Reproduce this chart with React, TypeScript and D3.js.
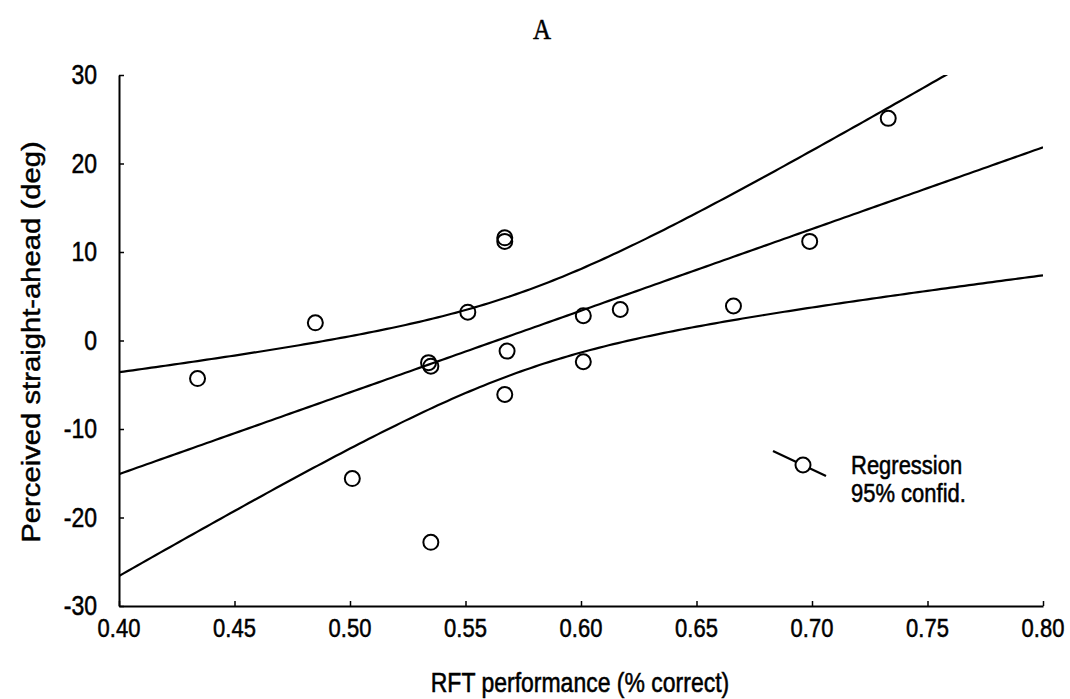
import React, { useEffect, useRef } from 'react';
import * as d3 from 'd3';

// RFT performance (proportion correct) for each subject
const rftScores = [
  0.434, 0.485, 0.501, 0.534, 0.535, 0.535, 0.551, 0.567, 0.567,
  0.568, 0.567, 0.601, 0.601, 0.617, 0.666, 0.699, 0.733,
];
// perceived straight-ahead (deg), same order
const straightAhead = [
  -4.3, 2.0, -15.6, -2.5, -2.9, -22.8, 3.2, 11.6, 11.2,
  -1.2, -6.1, 2.8, -2.4, 3.5, 3.9, 11.2, 25.1,
];
const xTicks = [0.4, 0.45, 0.5, 0.55, 0.6, 0.65, 0.7, 0.75, 0.8];
const yTicks = [-30, -20, -10, 0, 10, 20, 30];
const legendLabels = ['Regression', '95% confid.'];

// two-sided 95% t quantile, df = n - 2 = 15
const T_CRIT = 2.131;

const FONT = '"Liberation Sans", Arial, Helvetica, sans-serif';
// the scan is a bit taller than wide, so text is stretched vertically
const STRETCH = 1.2;

const App = () => {
  const svgRef = useRef<SVGSVGElement | null>(null);

  useEffect(() => {
    const svg = d3.select(svgRef.current);
    svg.selectAll('*').remove();

    const width = 1070;
    const height = 699;
    const margin = { top: 75, right: 27, bottom: 93, left: 119 };
    const innerWidth = width - margin.left - margin.right;
    const innerHeight = height - margin.top - margin.bottom;

    const pts = rftScores.map((x, i) => ({ x, y: straightAhead[i] }));

    const x = d3.scaleLinear().domain([0.4, 0.8]).range([0, innerWidth]);
    const y = d3.scaleLinear().domain([-30, 30]).range([innerHeight, 0]);

    // Least squares fit and confidence band of the mean
    const n = pts.length;
    const mx = d3.mean(pts, d => d.x) as number;
    const my = d3.mean(pts, d => d.y) as number;
    const sxx = d3.sum(pts, d => (d.x - mx) ** 2);
    const sxy = d3.sum(pts, d => (d.x - mx) * (d.y - my));
    const slope = sxy / sxx;
    const icpt = my - slope * mx;
    const sse = d3.sum(pts, d => (d.y - (icpt + slope * d.x)) ** 2);
    const s = Math.sqrt(sse / (n - 2));

    const grid = d3.range(0, 201).map(i => 0.4 + (0.4 * i) / 200);
    const fit = grid.map(gx => {
      const yh = icpt + slope * gx;
      const half = T_CRIT * s * Math.sqrt(1 / n + (gx - mx) ** 2 / sxx);
      return { x: gx, y: yh, lo: yh - half, hi: yh + half };
    });

    // text helper: anchor point, then stretch
    const label = (parent, tx, ty, txt, size, anchor = 'middle', family = FONT, rot = 0, sx = 1, sy = STRETCH) => {
      parent.append('g')
        .attr('transform', `translate(${tx},${ty}) rotate(${rot}) scale(${sx},${sy})`)
        .append('text')
        .attr('text-anchor', anchor)
        .attr('font-family', family)
        .attr('font-size', size)
        .attr('fill', '#000')
        .attr('stroke', '#000')
        .attr('stroke-width', 0.45)
        .text(txt);
    };

    svg.append('defs').append('clipPath')
      .attr('id', 'plot-clip')
      .append('rect')
      .attr('x', 0)
      .attr('y', 0)
      .attr('width', innerWidth)
      .attr('height', innerHeight);

    const g = svg.append('g')
      .attr('transform', `translate(${margin.left},${margin.top})`);

    // Title
    label(svg, 542, 39, 'A', 25, 'middle', '"Liberation Serif", "Times New Roman", serif');

    // Axes: left and bottom only, ticks pointing inward
    const xAxis = g.append('g')
      .attr('transform', `translate(0,${innerHeight})`)
      .call(d3.axisBottom(x).tickValues(xTicks).tickSizeInner(-5).tickSizeOuter(0).tickFormat(() => ''));
    const yAxis = g.append('g')
      .call(d3.axisLeft(y).tickValues(yTicks).tickSizeInner(-5).tickSizeOuter(0).tickFormat(() => ''));

    [xAxis, yAxis].forEach(ax => {
      ax.select('.domain').attr('stroke', '#000').attr('stroke-width', 2);
      ax.selectAll('.tick line').attr('stroke', '#000').attr('stroke-width', 1.5);
    });

    xTicks.forEach(t => {
      label(g, x(t), innerHeight + 31, d3.format('.2f')(t), 22);
    });
    yTicks.forEach(t => {
      label(g, -22, y(t) + 9, String(t), 23, 'end');
    });

    // Axis titles
    label(svg, 580, 692, 'RFT performance (% correct)', 23);
    label(svg, 40, 342, 'Perceived straight-ahead (deg)', 25, 'middle', FONT, -90, 1.17, 1);

    // Regression and confidence curves
    const plot = g.append('g').attr('clip-path', 'url(#plot-clip)');
    const mkLine = (key: 'y' | 'lo' | 'hi') => d3.line<typeof fit[number]>()
      .x(d => x(d.x))
      .y(d => y(d[key]));

    (['y', 'lo', 'hi'] as const).forEach(k => {
      plot.append('path')
        .datum(fit)
        .attr('fill', 'none')
        .attr('stroke', '#000')
        .attr('stroke-width', 2.2)
        .attr('d', mkLine(k));
    });

    // Data points
    g.selectAll('.dot')
      .data(pts)
      .enter().append('circle')
      .attr('class', 'dot')
      .attr('cx', d => x(d.x))
      .attr('cy', d => y(d.y))
      .attr('r', 7.5)
      .attr('fill', 'none')
      .attr('stroke', '#000')
      .attr('stroke-width', 2);

    // Legend
    const leg = svg.append('g');
    leg.append('line')
      .attr('x1', 773).attr('y1', 451)
      .attr('x2', 826).attr('y2', 476)
      .attr('stroke', '#000')
      .attr('stroke-width', 2.2);
    leg.append('circle')
      .attr('cx', 803).attr('cy', 465)
      .attr('r', 7.5)
      .attr('fill', '#fff')
      .attr('stroke', '#000')
      .attr('stroke-width', 2);
    legendLabels.forEach((t, i) => {
      label(leg, 851, 474 + i * 28, t, 22, 'start');
    });
  }, []);

  return (
    <svg
      ref={svgRef}
      width={1070}
      height={699}
      style={{ position: 'absolute', left: 0, top: 0, background: '#fff' }}
    ></svg>
  );
};

export default App;
